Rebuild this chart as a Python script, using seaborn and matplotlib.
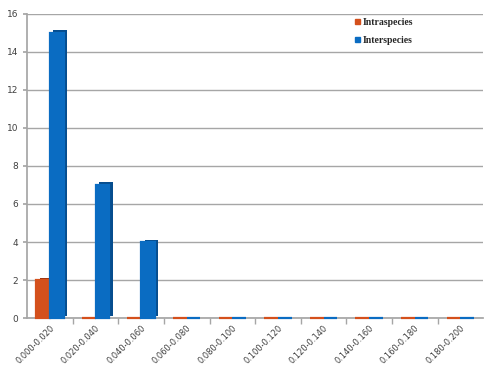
import matplotlib
matplotlib.use("Agg")
import matplotlib.pyplot as plt
import matplotlib.patheffects as pe
import seaborn as sns
import pandas as pd

categories = ["0.000-0.020", "0.020-0.040", "0.040-0.060", "0.060-0.080", "0.080-0.100",
              "0.100-0.120", "0.120-0.140", "0.140-0.160", "0.160-0.180", "0.180-0.200"]
intraspecies = [2, 0, 0, 0, 0, 0, 0, 0, 0, 0]
interspecies = [15, 7, 4, 0, 0, 0, 0, 0, 0, 0]
y_ticks = [0, 2, 4, 6, 8, 10, 12, 14, 16]

df = pd.DataFrame({
    "range": categories * 2,
    "count": intraspecies + interspecies,
    "group": ["Intraspecies"] * len(categories) + ["Interspecies"] * len(categories),
})

face = {"Intraspecies": "#D4501C", "Interspecies": "#0A6CC2"}
side = {"Intraspecies": "#9C3510", "Interspecies": "#064D8E"}

sns.set_theme(style="white")
fig = plt.figure(figsize=(4.93, 3.66), dpi=100)
ax = fig.add_axes([0.055, 0.131, 0.925, 0.831])

sns.barplot(data=df, x="range", y="count", hue="group", palette=face,
            width=0.6, ax=ax, legend=False, saturation=1)

# extruded look: darker offset copy behind every bar
n = len(categories)
for i, p in enumerate(ax.patches[:2 * n]):
    g = "Intraspecies" if i < n else "Interspecies"
    p.set_edgecolor(face[g])
    p.set_linewidth(1.6)
    p.set_clip_on(False)
    p.set_zorder(3)
    p.set_path_effects([
        pe.SimplePatchShadow(offset=(2.5, 1.8), shadow_rgbFace=side[g], alpha=1.0),
        pe.Normal(),
    ])

ax.set_ylim(0, 16)
ax.set_yticks(y_ticks)
ax.set_xlim(-0.5, n - 0.5)
ax.yaxis.grid(True, color="#A6A6A6", linewidth=1.0)
ax.set_axisbelow(True)
for s in ["top", "right"]:
    ax.spines[s].set_visible(False)
ax.spines["left"].set_color("#A6A6A6")
ax.spines["bottom"].set_color("#A6A6A6")
ax.spines["bottom"].set_zorder(1)
ax.set_xlabel("")
ax.set_ylabel("")
ax.tick_params(axis="y", labelsize=6.5, labelcolor="#404040", length=3, color="#A6A6A6", left=True)
ax.set_xticks(range(n))
ax.set_xticklabels(categories, rotation=45, ha="right", rotation_mode="anchor")
ax.tick_params(axis="x", which="major", labelsize=6, labelcolor="#404040", length=0, pad=4)
# category boundary ticks along the floor
ax.set_xticks([k + 0.5 for k in range(n - 1)], minor=True)
ax.tick_params(axis="x", which="minor", length=4, color="#A6A6A6", bottom=True)

# legend entries
handles = [plt.Rectangle((0, 0), 1, 1, color=face[g]) for g in ["Intraspecies", "Interspecies"]]
leg = ax.legend(handles, ["Intraspecies", "Interspecies"], loc="upper left",
                bbox_to_anchor=(0.70, 1.015), frameon=False, handlelength=0.5,
                handleheight=0.5, handletextpad=0.3, labelspacing=0.9,
                prop={"family": "Liberation Serif", "weight": "bold", "size": 7})

fig.savefig("out.png", dpi=100, facecolor="white")
